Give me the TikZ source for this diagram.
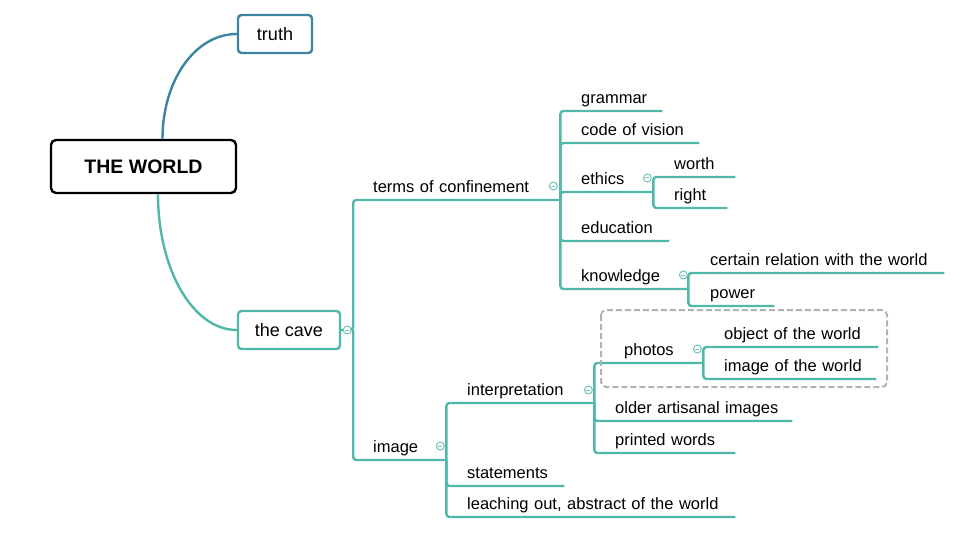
\documentclass[tikz,border=0pt]{standalone}
\usepackage{fontspec}
\setmainfont{Liberation Sans}
\usetikzlibrary{positioning}
\definecolor{mapteal}{RGB}{79,184,168}
\definecolor{mapblue}{RGB}{59,133,160}
\definecolor{foldteal}{RGB}{110,198,186}
\definecolor{mapgray}{RGB}{178,178,178}

\begin{document}
\begin{tikzpicture}[x=1pt, y=-1pt]
\tikzstyle{central} = [draw, line width=2.4pt, rounded corners=5pt, minimum width=185pt, minimum height=53pt, font={\fontsize{19.5}{22}\selectfont\bfseries}]
\tikzstyle{mainbox} = [draw=#1, line width=2.4pt, rounded corners=3.5pt, minimum height=38pt, font=\fontsize{18}{21}\selectfont]
\tikzstyle{sub} = [anchor=south west, text width=#1, align=left, inner xsep=0pt, inner ysep=3.5pt, text depth=4pt, font=\fontsize{16.5}{19}\selectfont]
\tikzstyle{branch} = [draw=mapteal, line width=2.4pt, rounded corners=3pt]
\tikzstyle{fold} = [circle, draw=foldteal, fill=white, text=foldteal, line width=1pt, minimum size=8pt, inner sep=0pt]
\tikzstyle{boundary} = [draw=mapgray, line width=2pt, dash pattern=on 6pt off 3pt, rounded corners=5pt]

\useasboundingbox (0,0) rectangle (960,540);

%central topic
\node (world)[central] at (143.5,166.5) {THE WORLD};
\node (truth)[mainbox=mapblue, minimum width=74pt] at (275,34) {truth};
\node (cave)[mainbox=mapteal, minimum width=102pt] at (289,330) {the cave};
\draw [mapblue, line width=2.4pt] ([xshift=19pt]world.north) .. controls +(0,-58) and +(-42,0) .. (truth.west);
\draw [mapteal, line width=2.4pt] ([xshift=14.5pt]world.south) .. controls +(0,75) and +(-44,0) .. (cave.west);

%%the cave
\coordinate (cavejoint) at ([xshift=12pt]cave.east);
\node (confine)[sub=187pt] at (373,200) {terms of confinement};
\node (image)[sub=73pt] at (373,460) {image};
\draw [branch] (cave.east) -- (cavejoint) |- (confine.south east);
\draw [branch] (cavejoint) |- (image.south east);

%%terms of confinement
\node (grammar)[sub=81pt] at (581,111) {grammar};
\node (vision)[sub=118pt] at (581,143) {code of vision};
\node (ethics)[sub=72pt] at (581,192) {ethics};
\node (education)[sub=88pt] at (581,241) {education};
\node (knowledge)[sub=107pt] at (581,289) {knowledge};
\draw [branch] (confine.south east) |- (grammar.south east);
\draw [branch] (confine.south east) |- (vision.south east);
\draw [branch] (confine.south east) |- (ethics.south east);
\draw [branch] (confine.south east) |- (education.south east);
\draw [branch] (confine.south east) |- (knowledge.south east);

\node (worth)[sub=61pt] at (674,177) {worth};
\node (right)[sub=53pt] at (674,208) {right};
\draw [branch] (ethics.south east) |- (worth.south east);
\draw [branch] (ethics.south east) |- (right.south east);

\node (relation)[sub=234pt] at (710,273) {certain relation with the world};
\node (power)[sub=64pt] at (710,306) {power};
\draw [branch] (knowledge.south east) |- (relation.south east);
\draw [branch] (knowledge.south east) |- (power.south east);

%%image
\node (interp)[sub=127pt] at (467,403) {interpretation};
\node (statements)[sub=97pt] at (467,486) {statements};
\node (leaching)[sub=268pt] at (467,517) {leaching out, abstract of the world};
\draw [branch] (image.south east) |- (interp.south east);
\draw [branch] (image.south east) |- (statements.south east);
\draw [branch] (image.south east) |- (leaching.south east);

\node (photos)[sub=79pt] at (624,363) {photos};
\node (artisanal)[sub=177pt] at (615,421) {older artisanal images};
\node (printed)[sub=120pt] at (615,453) {printed words};
\draw [branch] (interp.south east) |- (photos.south east);
\draw [branch] (interp.south east) |- (artisanal.south east);
\draw [branch] (interp.south east) |- (printed.south east);

\node (object)[sub=154pt] at (724,347) {object of the world};
\node (worldimage)[sub=152pt] at (724,379) {image of the world};
\draw [branch] (photos.south east) |- (object.south east);
\draw [branch] (photos.south east) |- (worldimage.south east);

%boundary round photos
\draw [boundary] (601,310) rectangle (887,387);

%collapse marks
\node (cavefold)[fold] at ([xshift=6pt]cave.east) {\rule{4pt}{1pt}};
\node (confinefold)[fold] at ([xshift=-7pt,yshift=14pt]confine.south east) {\rule{4pt}{1pt}};
\node (ethicsfold)[fold] at ([xshift=-6pt,yshift=14pt]ethics.south east) {\rule{4pt}{1pt}};
\node (knowledgefold)[fold] at ([xshift=-5pt,yshift=14pt]knowledge.south east) {\rule{4pt}{1pt}};
\node (imagefold)[fold] at ([xshift=-6pt,yshift=14pt]image.south east) {\rule{4pt}{1pt}};
\node (interpfold)[fold] at ([xshift=-6pt,yshift=13pt]interp.south east) {\rule{4pt}{1pt}};
\node (photosfold)[fold] at ([xshift=-6pt,yshift=14pt]photos.south east) {\rule{4pt}{1pt}};
\end{tikzpicture}
\end{document}
